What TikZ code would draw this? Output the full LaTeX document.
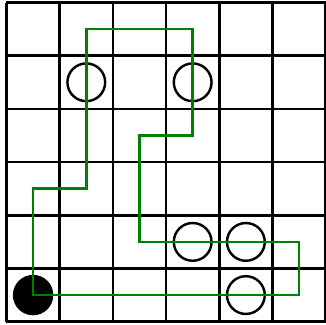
\documentclass[tikz,border=0pt]{standalone}
\usetikzlibrary{positioning}
\tikzset{
    gridline/.style={line width=1.4pt},
    pearl/.style={circle,draw,line width=1.3pt,minimum size=7.1mm,inner sep=0pt},
    blackpearl/.style={circle,fill=black,minimum size=7.6mm,inner sep=0pt},
    loopline/.style={draw=green!50!black,line width=1.3pt}
}

\begin{document}
\begin{tikzpicture}
    \useasboundingbox (-0.122,-0.062) rectangle (6.006,6.047);
    \draw[gridline] (0,0) grid (6,6);

    \node[blackpearl] (start) at (0.5,0.5) {};
    \node[pearl] (p1) at (1.5,4.5) {};
    \node[pearl] (p2) at (3.5,4.5) {};
    \node[pearl] (p3) at (3.5,1.5) {};
    \node[pearl] (p4) at (4.5,1.5) {};
    \node[pearl] (p5) at (4.5,0.5) {};

    \coordinate (t1) at (5.5,0.5);
    \coordinate (t2) at (5.5,1.5);
    \coordinate (t3) at (2.5,1.5);
    \coordinate (t4) at (2.5,3.5);
    \coordinate (t5) at (3.5,3.5);
    \coordinate (t6) at (3.5,5.5);
    \coordinate (t7) at (1.5,5.5);
    \coordinate (t8) at (1.5,2.5);
    \coordinate (t9) at (0.5,2.5);

    \draw[loopline] (start.center) -- (t1) -- (t2) -- (t3) -- (t4) -- (t5)
        -- (t6) -- (t7) -- (t8) -- (t9) -- cycle;
\end{tikzpicture}
\end{document}
